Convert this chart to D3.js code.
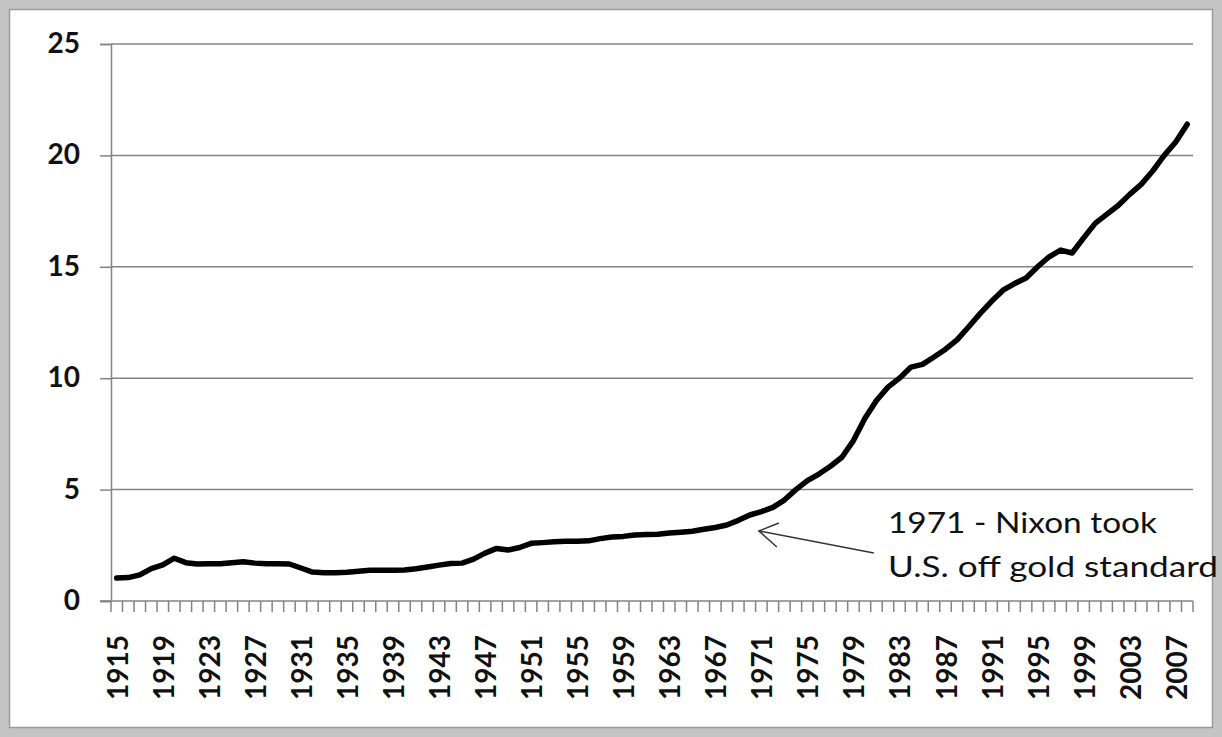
<!DOCTYPE html>
<meta charset="utf-8">
<script src="https://cdn.jsdelivr.net/npm/d3@7"></script>
<style>
body { margin: 0; background: #fff; }
svg { display: block; }
.tick-label { font-family: Lato, "Open Sans", sans-serif; font-weight: bold; font-size: 28px; fill: #111; }
.note { font-family: Lato, "Open Sans", sans-serif; font-size: 28px; fill: #111; }
</style>
<body>
<div class="chart"></div>
<script>

// years on the category axis
var years = d3.range(1915, 2009);

// index value per year
var values = [
  1.03, 1.05, 1.17, 1.45, 1.62, 1.92, 1.72, 1.66, 1.67, 1.67,
  1.72, 1.76, 1.70, 1.67, 1.67, 1.66, 1.48, 1.30, 1.27, 1.27,
  1.29, 1.34, 1.38, 1.38, 1.38, 1.39, 1.45, 1.53, 1.61, 1.68,
  1.70, 1.88, 2.15, 2.36, 2.29, 2.40, 2.59, 2.62, 2.66, 2.68,
  2.68, 2.70, 2.80, 2.87, 2.90, 2.96, 2.98, 3.00, 3.05, 3.09,
  3.13, 3.22, 3.30, 3.41, 3.62, 3.86, 4.01, 4.20, 4.53, 5.00,
  5.40, 5.70, 6.05, 6.45, 7.20, 8.20, 9.00, 9.60, 10.00, 10.50,
  10.62, 10.95, 11.30, 11.72, 12.30, 12.90, 13.45, 13.95, 14.25, 14.50,
  15.00, 15.45, 15.75, 15.62, 16.30, 16.95, 17.35, 17.75, 18.25, 18.70,
  19.30, 20.00, 20.60, 21.40
];

var yTicks = [0, 5, 10, 15, 20, 25];
var labelYears = years.filter(function(d) { return (d - 1915) % 4 === 0; });
var noteLines = ["1971 - Nixon took", "U.S. off gold standard"];
var noteYear = 1970;

var W = 1222, H = 737;
var margin = {top: 44, right: 29, bottom: 136, left: 111};

var svg = d3.select(".chart").append("svg")
    .attr("width", W)
    .attr("height", H);

// grey frame round the picture
svg.append("rect")
    .attr("width", W).attr("height", H)
    .attr("fill", "#c4c4c4");
svg.append("rect")
    .attr("x", 9.5).attr("y", 9.5)
    .attr("width", W - 19).attr("height", H - 19)
    .attr("fill", "#fff")
    .attr("stroke", "#9a9a9a")
    .attr("stroke-width", 1.5);

var x = d3.scaleBand()
    .domain(years)
    .range([margin.left, W - margin.right])
    .paddingInner(0).paddingOuter(0);

var y = d3.scaleLinear()
    .domain([0, 25])
    .range([H - margin.bottom, margin.top]);

var bw = x.bandwidth();
var axisGrey = "#838383";

// horizontal gridlines
svg.selectAll(".grid")
    .data(yTicks.filter(function(d) { return d > 0; }))
    .enter().append("line")
    .attr("x1", margin.left).attr("x2", W - margin.right)
    .attr("y1", function(d) { return y(d); })
    .attr("y2", function(d) { return y(d); })
    .attr("stroke", axisGrey)
    .attr("stroke-width", 1.5);

// y axis
var yAxis = svg.append("g")
    .attr("transform", "translate(" + margin.left + ",0)")
    .call(d3.axisLeft(y).tickValues(yTicks).tickSize(11).tickPadding(20));
yAxis.select(".domain").attr("stroke", axisGrey).attr("stroke-width", 1.5);
yAxis.selectAll(".tick line").attr("stroke", axisGrey).attr("stroke-width", 1.5);
yAxis.selectAll(".tick text")
    .attr("class", "tick-label")
    .attr("font-family", null).attr("font-size", null)
    .attr("dy", "0.3em");

// x axis line and tick marks at category edges
var y0 = y(0);
svg.append("line")
    .attr("x1", margin.left - 11).attr("x2", W - margin.right)
    .attr("y1", y0).attr("y2", y0)
    .attr("stroke", axisGrey).attr("stroke-width", 1.5);

var edges = years.map(function(d) { return x(d); }).concat([x(years[years.length - 1]) + bw]);
svg.selectAll(".xtick")
    .data(edges)
    .enter().append("line")
    .attr("x1", function(d) { return d; }).attr("x2", function(d) { return d; })
    .attr("y1", y0).attr("y2", y0 + 11)
    .attr("stroke", axisGrey).attr("stroke-width", 1.5);

// rotated year labels
svg.selectAll(".xlabel")
    .data(labelYears)
    .enter().append("text")
    .attr("class", "tick-label")
    .attr("text-anchor", "end")
    .attr("transform", function(d) {
      return "translate(" + (x(d) + bw / 2 + 11) + "," + (y0 + 34) + ") rotate(-90)";
    })
    .text(function(d) { return d; });

// the series
var line = d3.line()
    .x(function(d, i) { return x(years[i]) + bw / 2; })
    .y(function(d) { return y(d); });

svg.append("path")
    .datum(values)
    .attr("d", line)
    .attr("fill", "none")
    .attr("stroke", "#000")
    .attr("stroke-width", 5.5)
    .attr("stroke-linejoin", "round")
    .attr("stroke-linecap", "round");

// annotation with open arrow
var tipX = x(noteYear) + bw / 2 + 9,
    tipY = y(values[years.indexOf(noteYear)]) + 16;
svg.append("line")
    .attr("x1", tipX + 115).attr("y1", tipY + 22)
    .attr("x2", tipX).attr("y2", tipY)
    .attr("stroke", "#333").attr("stroke-width", 1.5);
svg.append("path")
    .attr("d", "M" + (tipX + 20) + "," + (tipY - 8) + "L" + tipX + "," + tipY + "L" + (tipX + 18) + "," + (tipY + 16))
    .attr("fill", "none")
    .attr("stroke", "#333").attr("stroke-width", 1.5);

var noteW = [269, 330];
svg.selectAll(".note")
    .data(noteLines)
    .enter().append("text")
    .attr("class", "note")
    .attr("x", 888)
    .attr("y", function(d, i) { return 533 + i * 44; })
    .attr("textLength", function(d, i) { return noteW[i]; })
    .attr("lengthAdjust", "spacingAndGlyphs")
    .text(function(d) { return d; });

</script>
</body>
